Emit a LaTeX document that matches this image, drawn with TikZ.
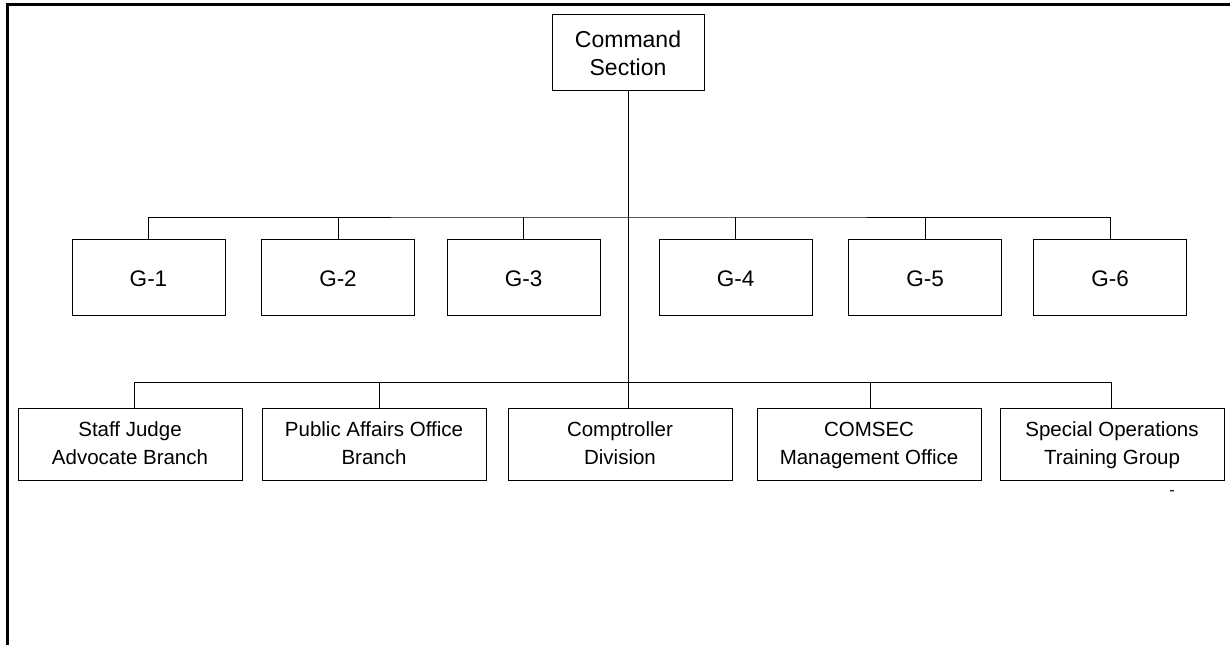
\documentclass[tikz,border=0pt]{standalone}
\usepackage{fontspec}
\setmainfont{Liberation Sans}
\newcommand\upx[1]{\rule{0pt}{#1}}
\newcommand\dnx[1]{\rule[-#1]{0pt}{#1}}
\begin{document}
\begin{tikzpicture}[x=1pt,y=-1pt,
  box/.style={draw,line width=1pt,align=center,inner sep=0pt,
    font=\fontsize{20.5}{28}\selectfont},
  cmdbox/.style={box,minimum width=152pt,minimum height=76pt,
    font=\fontsize{23}{28}\selectfont},
  gbox/.style={box,minimum width=153pt,minimum height=76pt,
    font=\fontsize{22.5}{28}\selectfont},
  bbox/.style={box,minimum width=224pt,minimum height=72pt},
  conn/.style={line width=1pt},
  frame/.style={line width=3pt}]
\useasboundingbox (0,0) rectangle (1230,645);
% frame
\coordinate (ftl) at (7.5,4);
\coordinate (fbl) at (7.5,645);
\coordinate (ftr) at (1230,4);
\draw[frame] (fbl) -- (ftl) -- (ftr);
% nodes
\node[cmdbox] (cmd) at (628,52) {\upx{20pt}Command\\Section\dnx{2pt}};
\node[gbox] (g1) at (148.5,277) {\upx{20pt}G-1};
\node[gbox] (g2) at (338,277) {\upx{20pt}G-2};
\node[gbox] (g3) at (523.5,277) {\upx{20pt}G-3};
\node[gbox] (g4) at (735.5,277) {\upx{20pt}G-4};
\node[gbox] (g5) at (925,277) {\upx{20pt}G-5};
\node[gbox] (g6) at (1110,277) {\upx{20pt}G-6};
\node[bbox] (sj) at (130,444) {\upx{19pt}Staff Judge\\Advocate Branch\dnx{7pt}};
\node[bbox] (pa) at (374,444) {\upx{19pt}Public Affairs Office\\Branch\dnx{7pt}};
\node[bbox] (cp) at (620,444) {\upx{19pt}Comptroller\\Division\dnx{7pt}};
\node[bbox] (cs) at (869,444) {\upx{19pt}COMSEC\\Management Office\dnx{7pt}};
\node[bbox] (so) at (1112,444) {\upx{19pt}Special Operations\\Training Group\dnx{7pt}};
\node[font=\fontsize{16}{16}\selectfont,inner sep=0pt] (dash) at (1172,493) {-};
% buses
\coordinate (gbus) at (628,217);
\coordinate (bbus) at (628,382);
\draw[conn] (cmd.south) -- (cmd.south |- cp.north);
\draw[conn] (g1.north) |- (gbus) -| (g6.north);
\foreach \n in {g2,g3,g4,g5} \draw[conn] (\n.north) -- (\n.north |- gbus);
\coordinate (sjc) at (134,382);
\coordinate (pac) at (379,382);
\coordinate (csc) at (870,382);
\coordinate (soc) at (1111,382);
\draw[conn] (sjc) -- (soc);
\draw[conn] (sjc) -- (sjc |- sj.north);
\draw[conn] (pac) -- (pac |- pa.north);
\draw[conn] (csc) -- (csc |- cs.north);
\draw[conn] (soc) -- (soc |- so.north);
\end{tikzpicture}
\end{document}
